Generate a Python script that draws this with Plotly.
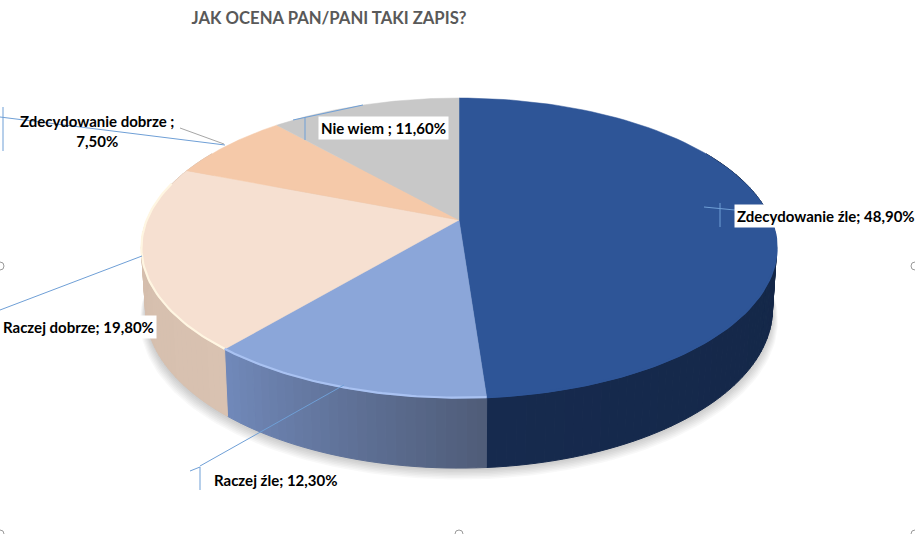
import numpy as np
import plotly.graph_objects as go

W, H = 915, 534
TITLE = "JAK OCENA PAN/PANI TAKI ZAPIS?"
categories = ["Zdecydowanie źle", "Raczej źle", "Raczej dobrze", "Zdecydowanie dobrze ", "Nie wiem "]
values = [48.9, 12.3, 19.8, 7.5, 11.6]

top_colors = ["#2e5597", "#8ba6d9", "#f6e0d1", "#f5c9a9", "#c8c8c8"]
wall_start = ["#11233f", "#4f5c78", "#d9c2b1", "#d9c2b1", "#aaaaaa"]   # colour at the clockwise start of a slice
wall_end = ["#162a4e", "#7189ba", "#d2bbaa", "#d9c2b1", "#aaaaaa"]     # colour at its end
rim_colors = ["#2e5597", "#a9c2f2", "#fff6e2", "#f5c9a9", "#c8c8c8"]

# perspective of the tilted disc, in page pixels
CX, CY, RX, RY, K = 459, 220, 312, 144.8, 0.187


def project(theta):
    t = np.radians(theta)
    w = 1 + K * np.cos(t)
    return CX + RX * np.sin(t) / w, CY - RY * np.cos(t) / w


def lower(x, y, grow=1.0, extra=0.0):
    return CX + (x - CX) * 0.987 * grow, y + 59.3 + 0.06 * (y - CY) + extra


def mix(a, b, f):
    ca = [int(a[i:i + 2], 16) for i in (1, 3, 5)]
    cb = [int(b[i:i + 2], 16) for i in (1, 3, 5)]
    return "rgb(%d,%d,%d)" % tuple(round(p + (q - p) * f) for p, q in zip(ca, cb))


def poly(x, y, color, line=None, width=0.0):
    return go.Scatter(x=list(x), y=list(y), mode="lines", fill="toself", fillcolor=color,
                      line=dict(color=line or color, width=width), hoverinfo="skip", showlegend=False)


fig = go.Figure()
cum = np.concatenate([[0], np.cumsum(values)]) / sum(values) * 360

# soft shadow below the wall
circle = np.linspace(0, 360, 241)
cx_, cy_ = project(circle)
for i in range(8):
    sx, sy = lower(cx_, cy_, 1.0 + 0.0025 * i, 1.5 * i + 1)
    fig.add_trace(poly(sx, sy, "rgba(0,0,0,0.028)"))

# side wall, drawn slice by slice in thin strips
for i in range(len(values)):
    a0, a1 = max(cum[i], 60), min(cum[i + 1], 300)
    if a1 <= a0:
        continue
    edges = np.linspace(a0, a1, max(2, int((a1 - a0) / 1.5) + 1))
    for p, q in zip(edges[:-1], edges[1:]):
        f = ((p + q) / 2 - cum[i]) / (cum[i + 1] - cum[i])
        col = mix(wall_start[i], wall_end[i], f)
        th = np.array([p, q])
        x, y = project(th)
        lx, ly = lower(x, y)
        fig.add_trace(poly([x[0], x[1], lx[1], lx[0], x[0]], [y[0], y[1], ly[1], ly[0], y[0]], col, col, 1))

# top face
for i in range(len(values)):
    th = np.linspace(cum[i], cum[i + 1], 90)
    x, y = project(th)
    fig.add_trace(poly(np.r_[CX, x, CX], np.r_[CY, y, CY], top_colors[i], top_colors[i], 0.5))

# bright bevel along the front rim
for i in range(len(values)):
    a0, a1 = max(cum[i], 85), min(cum[i + 1], 285)
    if a1 <= a0:
        continue
    x, y = project(np.linspace(a0, a1, 60))
    fig.add_trace(go.Scatter(x=x, y=y - 0.5, mode="lines", line=dict(color=rim_colors[i], width=2.2),
                             hoverinfo="skip", showlegend=False))

# leader lines
leaders = [
    (0, 117, 225, 145), (3, 107, 3, 151),
    (0, 310, 142, 256),
    (200, 466, 344, 385), (190, 471, 200, 467), (200, 467, 200, 490),
    (293, 120, 363, 105), (305, 117, 305, 140),
    (704, 207, 745, 211), (720, 203, 720, 227),
]
shapes = [dict(type="line", x0=a, y0=b, x1=c, y1=d, xref="x", yref="y",
               line=dict(color="#6f9fd6", width=1)) for a, b, c, d in leaders]
shapes.append(dict(type="line", x0=180, y0=128, x1=224, y1=144, xref="x", yref="y",
                   line=dict(color="#a6a6a6", width=1)))
for hx, hy in [(0, 266), (915, 266), (459, 534), (0, 534), (915, 534)]:
    shapes.append(dict(type="circle", x0=hx - 4, x1=hx + 4, y0=hy - 4, y1=hy + 4, xref="x", yref="y",
                       line=dict(color="#9a9a9a", width=1), fillcolor="white"))


def label(i):
    return f"{categories[i]}; {values[i]:.2f}%".replace(".", ",")


two_line = f"{categories[3]};<br>{values[3]:.2f}%".replace(".", ",")
label_font = dict(family="Lato, Carlito, sans-serif", size=15, color="#000000", weight=700)
anns = [
    dict(x=825.5, y=216, text=label(0), bgcolor="#ffffff", borderpad=2),
    dict(x=276, y=480, text=label(1)),
    dict(x=78, y=327, text=label(2), bgcolor="#ffffff", borderpad=2),
    dict(x=97, y=131, text=two_line),
    dict(x=383, y=128, text=label(4), bgcolor="#ffffff", borderpad=2),
]
for a in anns:
    a.update(xref="x", yref="y", showarrow=False, font=label_font, xanchor="center", yanchor="middle")

fig.update_layout(
    width=W, height=H, margin=dict(l=0, r=0, t=0, b=0), autosize=False,
    paper_bgcolor="white", plot_bgcolor="white", showlegend=False,
    title=dict(text=f"<b>{TITLE}</b>", x=329 / W, xanchor="center", xref="paper", y=1 - 18 / H,
               yanchor="middle", yref="container",
               font=dict(family="Lato, Carlito, sans-serif", size=16.7, color="#595959")),
    xaxis=dict(range=[0, W], visible=False, fixedrange=True),
    yaxis=dict(range=[H, 0], visible=False, fixedrange=True),
    shapes=shapes, annotations=anns,
)
fig.write_html("out.html", config=dict(displayModeBar=False),
               post_script="document.body.style.margin='0';document.body.style.overflow='hidden';")
